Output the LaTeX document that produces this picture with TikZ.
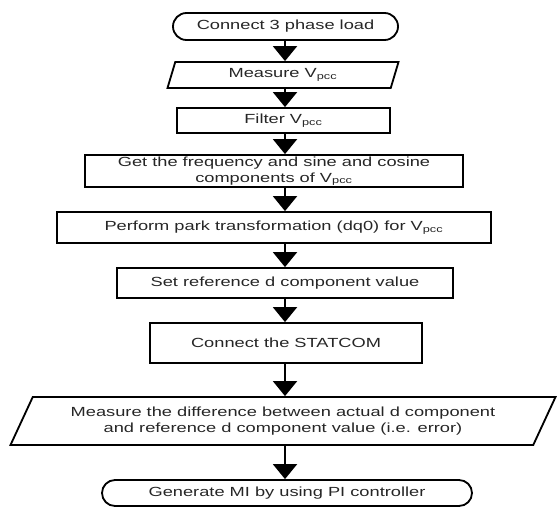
\documentclass[tikz,border=0pt]{standalone}
\usepackage{fontspec}
\setmainfont{Liberation Sans}[FakeStretch=1.38]
\usepackage{tikz}
\usetikzlibrary{arrows.meta,shapes.geometric,shapes.misc}
\newcommand{\pxu}{0.025cm}
\newcommand{\Vpcc}{V\textsubscript{pcc}}

\begin{document}
\begin{tikzpicture}[x=\pxu, y=-\pxu,
  every node/.style={font=\fontsize{9.4}{11.5}\selectfont, text=black!85},
  procbox/.style={draw, line width=1.3pt, rectangle, align=center, inner sep=0pt},
  termbox/.style={draw, line width=1.3pt, rounded rectangle, inner sep=0pt},
  iobox/.style={draw, line width=1.3pt, trapezium, trapezium stretches body,
                inner sep=0pt, align=center},
  flow/.style={-{Triangle[length=15*\pxu,width=24*\pxu]}, line width=1.5pt}]
  \useasboundingbox (0,0) rectangle (557,507);
  \coordinate (spine) at (285,0);
  % steps
  \node[termbox, minimum width=225*\pxu, minimum height=27*\pxu]
    (start) at (285.5,26.5) {Connect 3 phase load};
  \node[iobox, trapezium left angle=58, trapezium right angle=122,
        minimum width=231*\pxu, minimum height=26*\pxu]
    (meas) at (283,75) {Measure \Vpcc};
  \node[procbox, minimum width=213*\pxu, minimum height=25*\pxu]
    (filt) at (283.5,120.5) {Filter \Vpcc};
  \node[procbox, minimum width=378*\pxu, minimum height=32*\pxu]
    (freq) at (274,171) {Get the frequency and sine and cosine\\components of \Vpcc};
  \node[procbox, minimum width=434*\pxu, minimum height=31*\pxu]
    (park) at (274,227.5) {Perform park transformation (dq0) for \Vpcc};
  \node[procbox, minimum width=336*\pxu, minimum height=30*\pxu]
    (dref) at (285,283) {Set reference d component value};
  \node[procbox, minimum width=272*\pxu, minimum height=40*\pxu]
    (stat) at (286,343) {Connect the STATCOM};
  \node[iobox, trapezium left angle=52, trapezium right angle=128,
        minimum width=545*\pxu, minimum height=48*\pxu]
    (err) at (283,421) {Measure the difference between actual d component\\and reference d component value (i.e. error)};
  \node[termbox, minimum width=370*\pxu, minimum height=26*\pxu]
    (mi) at (287,493) {Generate MI by using PI controller};
  % arrows
  \draw[flow] (spine |- start.south) -- (spine |- meas.north);
  \draw[flow] (spine |- meas.south) -- (spine |- filt.north);
  \draw[flow] (spine |- filt.south) -- (spine |- freq.north);
  \draw[flow] (spine |- freq.south) -- (spine |- park.north);
  \draw[flow] (spine |- park.south) -- (spine |- dref.north);
  \draw[flow] (spine |- dref.south) -- (spine |- stat.north);
  \draw[flow] (spine |- stat.south) -- (spine |- err.north);
  \draw[flow] (spine |- err.south) -- (spine |- mi.north);
\end{tikzpicture}
\end{document}
